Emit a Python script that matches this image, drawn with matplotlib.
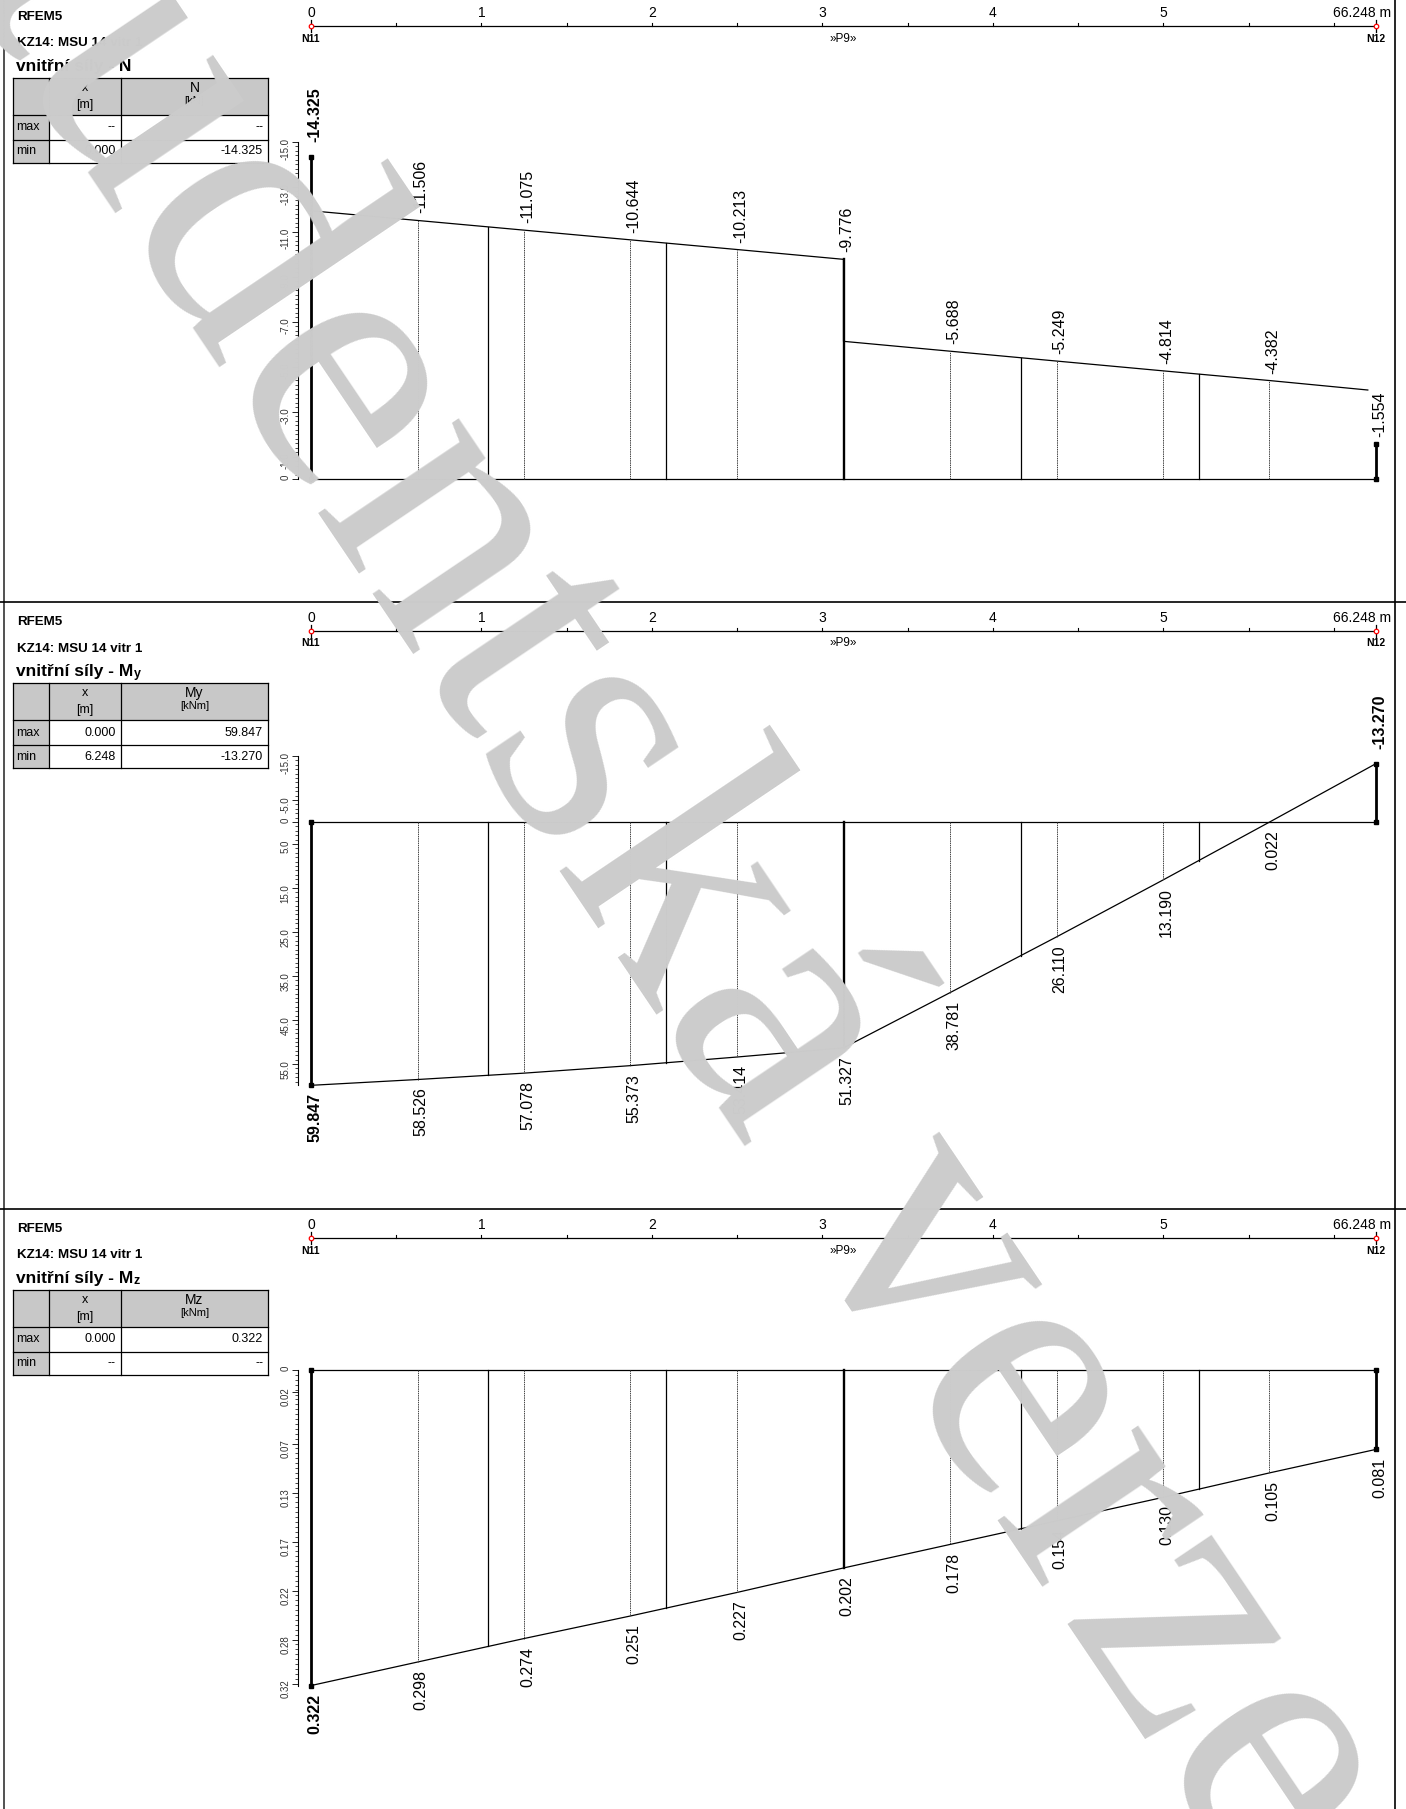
import numpy as np
import matplotlib
matplotlib.use("Agg")
import matplotlib.pyplot as plt
from matplotlib.patches import Rectangle
from matplotlib.ticker import FixedLocator

plt.rcParams['font.family'] = ['Liberation Sans', 'DejaVu Sans']

# ---------------------------------------------------------------- data
beam_length = 6.248
scale_ticks = [0, 1, 2, 3, 4, 5]
scale_tick_labels = ['0', '1', '2', '3', '4', '5']
scale_end_label = '66.248 m'
node_start, node_end, member_name = 'N11', 'N12', '»P9»'

header_lines = ['RFEM5', 'KZ14: MSU 14 vitr 1']
watermark = 'studentská verze'

# result points (tenths of the member) and member divisions (sixths)
stations = [0.000, 0.625, 1.250, 1.874, 2.499, 3.124, 3.749, 4.374, 4.998, 5.623, 6.248]
divisions = [1.041, 2.083, 3.124, 4.165, 5.207]

# normal force N [kN]
n_values = [-14.325, -11.506, -11.075, -10.644, -10.213, -9.776,
            -5.688, -5.249, -4.814, -4.382, -1.554]
n_line_x = [0.000, 0.625, 1.250, 1.874, 2.499, 3.124, 3.124,
            3.749, 4.374, 4.998, 5.623, 6.200]
n_line_v = [-11.937, -11.506, -11.075, -10.644, -10.213, -9.776, -6.127,
            -5.688, -5.249, -4.814, -4.382, -3.960]
n_ticks = [0, -1.0, -3.0, -5.0, -7.0, -9.0, -11.0, -13.0, -15.0]
n_tick_labels = ['0', '-1.0', '-3.0', '-5.0', '-7.0', '-9.0', '-11.0', '-13.0', '-15.0']
n_table = [['--', '--'], ['0.000', '-14.325']]
n_extremes = [-14.325]

# bending moment My [kNm]
my_values = [59.847, 58.526, 57.078, 55.373, 53.414, 51.327,
             38.781, 26.110, 13.190, 0.022, -13.270]
my_ticks = [-15.0, -5.0, 0, 5.0, 15.0, 25.0, 35.0, 45.0, 55.0]
my_tick_labels = ['-15.0', '-5.0', '0', '5.0', '15.0', '25.0', '35.0', '45.0', '55.0']
my_table = [['0.000', '59.847'], ['6.248', '-13.270']]
my_extremes = [59.847, -13.270]

# bending moment Mz [kNm]
mz_values = [0.322, 0.298, 0.274, 0.251, 0.227, 0.202,
             0.178, 0.154, 0.130, 0.105, 0.081]
mz_ticks = [0, 0.022, 0.075, 0.125, 0.175, 0.225, 0.275, 0.32]
mz_tick_labels = ['0', '0.02', '0.07', '0.13', '0.17', '0.22', '0.28', '0.32']
mz_table = [['0.000', '0.322'], ['--', '--']]
mz_extremes = [0.322]

# ---------------------------------------------------------------- layout
W, H = 1406, 1809
PT = 0.72                      # points per pixel at 100 dpi
fig = plt.figure(figsize=(W / 100, H / 100), dpi=100)
fig.patch.set_facecolor('white')

X_START, X_END = 311, 1376
AX_LEFT, AX_RIGHT = 298, 1395
PX_PER_M = (X_END - X_START) / beam_length
XLIM = ((AX_LEFT - X_START) / PX_PER_M, beam_length + (AX_RIGHT - X_END) / PX_PER_M)


def add_px_axes(x0, x1, y0, y1):
    return fig.add_axes([x0 / W, 1 - y1 / H, (x1 - x0) / W, (y1 - y0) / H])


bg = fig.add_axes([0, 0, 1, 1])
bg.set_xlim(0, W)
bg.set_ylim(H, 0)
bg.axis('off')
renderer = fig.canvas.get_renderer()

# frame and panel separators
bg.plot([3.5, 3.5], [0, H], color='#333333', lw=1.2)
bg.plot([1395, 1395], [0, H], color='black', lw=1.2)
for ysep in (602, 1209):
    bg.plot([0, W], [ysep, ysep], color='black', lw=1.2)

panels = [
    dict(off=0, sym='N', sub='', unit='[kN]', table=n_table, extremes=n_extremes,
         base=479, k=22.47, ticks=n_ticks, labels=n_tick_labels, minor=0.2,
         ruler=(-15.0, 0.0), line_x=n_line_x, line_v=n_line_v, values=n_values),
    dict(off=605, sym='M', sub='y', unit='[kNm]', table=my_table, extremes=my_extremes,
         base=822, k=4.40, ticks=my_ticks, labels=my_tick_labels, minor=1.0,
         ruler=(-15.0, 59.847), line_x=stations, line_v=my_values, values=my_values),
    dict(off=1212, sym='M', sub='z', unit='[kNm]', table=mz_table, extremes=mz_extremes,
         base=1370, k=980.0, ticks=mz_ticks, labels=mz_tick_labels, minor=0.005,
         ruler=(0.0, 0.322), line_x=stations, line_v=mz_values, values=mz_values),
]


def draw_header(p):
    off = p['off']
    bg.text(17, off + 20, header_lines[0], fontsize=9.6, fontweight='bold', va='baseline')
    bg.text(17, off + 46.5, header_lines[1], fontsize=9.6, fontweight='bold', va='baseline')
    t = bg.text(16, off + 71, 'vnitřní síly - ' + p['sym'], fontsize=12.5,
                fontweight='bold', va='baseline')
    if p['sub']:
        bb = t.get_window_extent(renderer=renderer)
        bg.text(bb.x1 + 0.5, off + 72, p['sub'], fontsize=9, fontweight='bold', va='baseline')

    # result table
    x0, c1, c2, x1 = 13, 49, 121, 268
    y0, h1, h2, y1 = off + 78, off + 115, off + 140, off + 163
    bg.add_patch(Rectangle((x0, y0), x1 - x0, h1 - y0, facecolor='#c8c8c8', edgecolor='none'))
    bg.add_patch(Rectangle((x0, h1), c1 - x0, y1 - h1, facecolor='#c8c8c8', edgecolor='none'))
    lw = 0.9
    for yy in (y0, h1, h2, y1):
        bg.plot([x0, x1], [yy, yy], color='black', lw=lw)
    for xx in (x0, c1, c2, x1):
        bg.plot([xx, xx], [y0, y1], color='black', lw=lw)
    bg.text((c1 + c2) / 2, off + 88, 'x', fontsize=9, ha='center', va='center')
    bg.text((c1 + c2) / 2, off + 105, '[m]', fontsize=9, ha='center', va='center')
    bg.text((c2 + x1) / 2, off + 88, p['sym'] + p['sub'], fontsize=10, ha='center', va='center')
    bg.text((c2 + x1) / 2, off + 101, p['unit'], fontsize=8, ha='center', va='center')
    for row, name, yc in zip(p['table'], ('max', 'min'), ((h1 + h2) / 2, (h2 + y1) / 2)):
        bg.text(x0 + 3, yc, name, fontsize=9, ha='left', va='center')
        bg.text(c2 - 5, yc, row[0], fontsize=9, ha='right', va='center')
        bg.text(x1 - 5, yc, row[1], fontsize=9, ha='right', va='center')


def draw_scale(p):
    off = p['off']
    ax = add_px_axes(AX_LEFT, AX_RIGHT, off, off + 50)
    ax.set_xlim(*XLIM)
    ax.set_ylim(50, 0)
    ax.axis('off')
    ly = 26
    ax.plot([0, beam_length], [ly, ly], color='black', lw=0.9)
    for t in np.arange(0.5, beam_length, 0.5):
        ax.plot([t, t], [ly - 3, ly], color='black', lw=0.8)
    for t, lab in zip(scale_ticks, scale_tick_labels):
        ax.text(t, 13, lab, fontsize=10, ha='center', va='center')
    ax.annotate(scale_end_label, (beam_length, 13), xytext=(15 * PT, 0),
                textcoords='offset points', fontsize=10, ha='right', va='center')
    for t in (0, beam_length):
        ax.plot([t, t], [20, 32], color='black', lw=0.9)
    ax.plot([0, beam_length], [ly, ly], ls='none', marker='o', ms=4.5 * PT,
            mfc='white', mec='red', mew=0.9)
    ax.text(0, 38.5, node_start, fontsize=7.5, fontweight='bold', ha='center', va='center')
    ax.text(beam_length, 38.5, node_end, fontsize=7.5, fontweight='bold', ha='center', va='center')
    ax.text(beam_length / 2, 38.5, member_name, fontsize=8.5, ha='center', va='center')


def draw_diagram(p):
    off, base, k = p['off'], p['base'], p['k']
    top_px, bot_px = off + 55, off + 597
    ax = add_px_axes(AX_LEFT, AX_RIGHT, top_px, bot_px)
    ax.set_xlim(*XLIM)
    ax.set_ylim((bot_px - base) / k, (top_px - base) / k)
    ax.patch.set_visible(False)
    for s in ('top', 'right', 'bottom'):
        ax.spines[s].set_visible(False)
    lo, hi = p['ruler']
    ax.spines['left'].set_bounds(lo, hi)
    ax.spines['left'].set_linewidth(0.8)
    ax.set_xticks([])
    ax.yaxis.set_major_locator(FixedLocator(p['ticks']))
    ax.set_yticklabels(p['labels'])
    ax.yaxis.set_minor_locator(FixedLocator(np.arange(lo, hi + 1e-9, p['minor'])))
    ax.tick_params(axis='y', which='major', direction='out', length=6 * PT, width=0.6,
                   labelsize=7, labelrotation=90, labelcolor='#333333', pad=1)
    ax.tick_params(axis='y', which='minor', direction='out', length=3 * PT, width=0.5)

    # member axis and outline of the diagram
    ax.plot([0, beam_length], [0, 0], color='black', lw=0.9)
    ax.plot(p['line_x'], p['line_v'], color='black', lw=0.9)

    last = len(stations) - 1
    for i, (x, v) in enumerate(zip(stations, p['values'])):
        if i in (0, last):
            ax.plot([x, x], [0, v], color='black', lw=2.0, solid_capstyle='butt')
            ax.plot([x, x], [0, v], ls='none', marker='s', ms=3.2 * PT, color='black')
        elif abs(x - 3.124) < 1e-6:
            ax.plot([x, x], [0, v], color='black', lw=1.7)
        else:
            ax.plot([x, x], [0, v], color='#444444', lw=0.7, ls=(0, (1.5, 0.8)))
    for d in divisions:
        if abs(d - 3.124) < 1e-6:
            continue
        v = np.interp(d, p['line_x'], p['line_v'])
        ax.plot([d, d], [0, v], color='black', lw=0.9)

    # value labels
    for x, v in zip(stations, p['values']):
        bold = any(abs(v - e) < 1e-9 for e in p['extremes'])
        if v < 0:
            gap = 15 if bold else 7
            dy, va = gap * PT, 'bottom'
        else:
            gap = 8
            dy, va = -gap * PT, 'top'
        ax.annotate(f'{v:.3f}', (x, v), xytext=(3.5 * PT, dy), textcoords='offset points',
                    rotation=90, ha='center', va=va, fontsize=11.5,
                    fontweight='bold' if bold else 'normal')


for p in panels:
    draw_header(p)
    draw_scale(p)
    draw_diagram(p)

# watermark on top of everything
wm = fig.add_axes([0, 0, 1, 1])
wm.set_xlim(0, W)
wm.set_ylim(H, 0)
wm.axis('off')
wm.patch.set_visible(False)
wm.text(634, 825, watermark, rotation=-56, rotation_mode='anchor',
        ha='center', va='center', fontsize=265, family='Liberation Serif', color='#cccccc')

fig.savefig('out.png', dpi=100, facecolor='white')
